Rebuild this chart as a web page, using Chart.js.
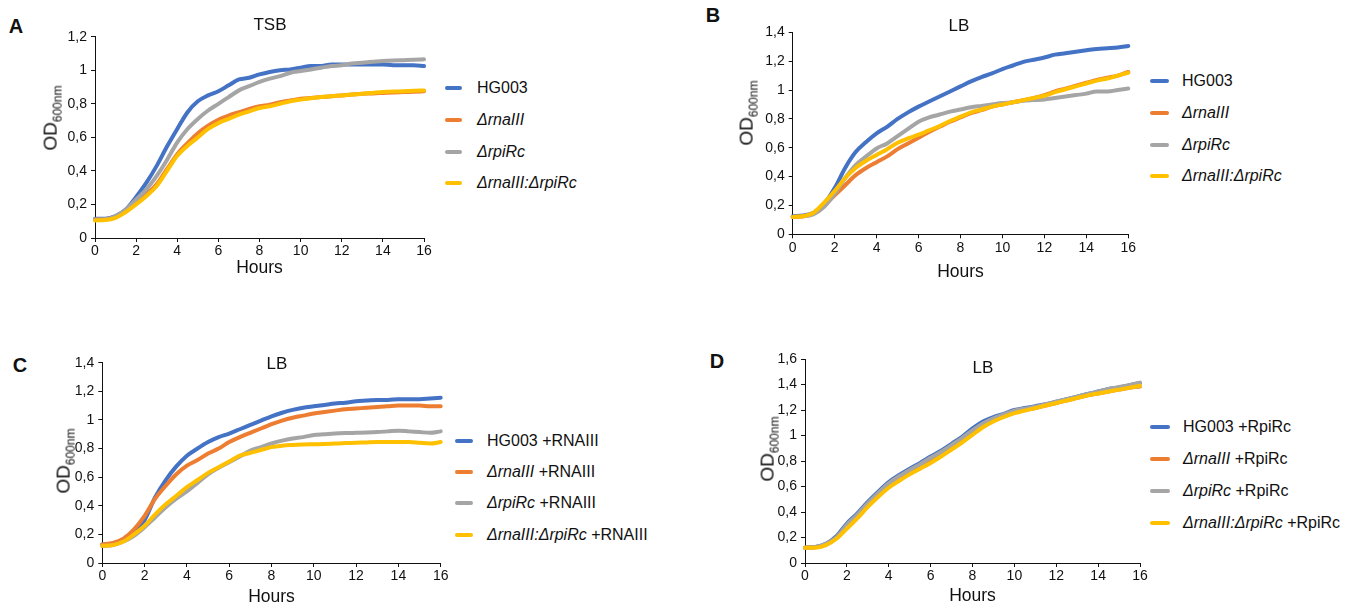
<!DOCTYPE html>
<html>
<head>
<meta charset="utf-8">
<script src="https://cdn.jsdelivr.net/npm/chart.js@4.4.0/dist/chart.umd.min.js"></script>
<style>
  body { margin: 0; background: #fff; width: 1359px; height: 609px; position: relative; overflow: hidden;
         font-family: "Liberation Sans", Arial, sans-serif; color: #111; }
  canvas { position: absolute; }
  .txt { position: absolute; white-space: nowrap; transform: translate(-50%, -50%); }
  .letter { font-weight: bold; font-size: 20px; }
  .title { font-size: 17px; }
  .od { font-size: 19px; transform: translate(-50%, -50%) rotate(-90deg); }
  .od sub { font-size: 12px; }
  .swatch { position: absolute; height: 4px; border-radius: 2px; }
  .leg { position: absolute; font-size: 16px; white-space: nowrap; transform: translateY(-50%); }
</style>
</head>
<body>
<script>
// time points (h)
const hours = [0, 0.5, 1, 1.5, 2, 2.5, 3, 3.5, 4, 4.5, 5, 5.5, 6, 6.5, 7, 7.5, 8,
               8.5, 9, 9.5, 10, 10.5, 11, 11.5, 12, 12.5, 13, 13.5, 14, 14.5, 15, 15.5, 16];

// A - TSB
const tsbHG003  = [0.115, 0.115, 0.13, 0.17, 0.245, 0.33, 0.43, 0.545, 0.65, 0.75, 0.815, 0.85, 0.875, 0.91, 0.945, 0.955, 0.975,
                   0.99, 1.0, 1.005, 1.015, 1.025, 1.025, 1.035, 1.035, 1.035, 1.035, 1.035, 1.035, 1.03, 1.03, 1.03, 1.025];
const tsbRnaIII = [0.11, 0.112, 0.125, 0.16, 0.21, 0.26, 0.32, 0.41, 0.5, 0.565, 0.625, 0.67, 0.705, 0.73, 0.75, 0.77, 0.785,
                   0.795, 0.81, 0.82, 0.83, 0.835, 0.84, 0.845, 0.85, 0.855, 0.86, 0.862, 0.865, 0.868, 0.87, 0.872, 0.875];
const tsbRpiRc  = [0.11, 0.112, 0.13, 0.17, 0.23, 0.29, 0.37, 0.465, 0.57, 0.65, 0.71, 0.76, 0.8, 0.84, 0.88, 0.905, 0.93,
                   0.95, 0.965, 0.985, 0.995, 1.005, 1.015, 1.025, 1.03, 1.04, 1.045, 1.05, 1.055, 1.058, 1.06, 1.062, 1.065];
const tsbDouble = [0.105, 0.107, 0.12, 0.155, 0.2, 0.25, 0.31, 0.4, 0.49, 0.55, 0.6, 0.65, 0.685, 0.71, 0.735, 0.755, 0.775,
                   0.785, 0.8, 0.815, 0.825, 0.833, 0.84, 0.845, 0.85, 0.855, 0.86, 0.865, 0.87, 0.873, 0.875, 0.878, 0.88];

// B - LB
const lbHG003  = [0.125, 0.13, 0.15, 0.21, 0.32, 0.46, 0.57, 0.64, 0.7, 0.745, 0.8, 0.845, 0.885, 0.92, 0.955, 0.99, 1.025,
                  1.06, 1.09, 1.115, 1.145, 1.17, 1.195, 1.21, 1.225, 1.245, 1.255, 1.265, 1.275, 1.285, 1.29, 1.295, 1.305];
const lbRnaIII = [0.12, 0.125, 0.145, 0.2, 0.27, 0.34, 0.41, 0.46, 0.5, 0.54, 0.59, 0.63, 0.67, 0.71, 0.745, 0.78, 0.81,
                  0.84, 0.86, 0.885, 0.9, 0.915, 0.93, 0.945, 0.965, 0.99, 1.01, 1.03, 1.05, 1.07, 1.085, 1.1, 1.125];
const lbRpiRc  = [0.12, 0.125, 0.14, 0.19, 0.28, 0.39, 0.48, 0.54, 0.595, 0.63, 0.68, 0.73, 0.78, 0.81, 0.83, 0.85, 0.865,
                  0.88, 0.89, 0.9, 0.91, 0.915, 0.925, 0.93, 0.935, 0.945, 0.955, 0.965, 0.975, 0.99, 0.99, 1.0, 1.01];
const lbDouble = [0.12, 0.125, 0.15, 0.22, 0.3, 0.39, 0.46, 0.51, 0.55, 0.59, 0.635, 0.665, 0.69, 0.72, 0.75, 0.785, 0.815,
                  0.845, 0.865, 0.885, 0.9, 0.915, 0.93, 0.945, 0.96, 0.985, 1.005, 1.025, 1.045, 1.065, 1.08, 1.1, 1.12];

// C - LB, +RNAIII
const rnaHG003  = [0.13, 0.135, 0.16, 0.22, 0.3, 0.46, 0.58, 0.675, 0.75, 0.8, 0.845, 0.88, 0.905, 0.935, 0.965, 0.995, 1.025,
                   1.05, 1.07, 1.085, 1.095, 1.105, 1.115, 1.12, 1.13, 1.135, 1.14, 1.14, 1.145, 1.145, 1.145, 1.15, 1.155];
const rnaRnaIII = [0.13, 0.14, 0.17, 0.235, 0.33, 0.45, 0.54, 0.62, 0.68, 0.72, 0.765, 0.8, 0.845, 0.88, 0.91, 0.94, 0.97,
                   0.995, 1.015, 1.03, 1.045, 1.055, 1.065, 1.075, 1.08, 1.085, 1.09, 1.095, 1.1, 1.1, 1.1, 1.095, 1.095];
const rnaRpiRc  = [0.12, 0.125, 0.15, 0.19, 0.25, 0.32, 0.39, 0.45, 0.5, 0.56, 0.62, 0.665, 0.705, 0.745, 0.785, 0.81, 0.835,
                   0.855, 0.87, 0.88, 0.895, 0.9, 0.905, 0.908, 0.91, 0.912, 0.915, 0.92, 0.925, 0.92, 0.915, 0.91, 0.92];
const rnaDouble = [0.12, 0.125, 0.15, 0.2, 0.26, 0.34, 0.41, 0.47, 0.53, 0.58, 0.63, 0.67, 0.71, 0.75, 0.77, 0.79, 0.81,
                   0.82, 0.825, 0.828, 0.83, 0.832, 0.835, 0.838, 0.84, 0.843, 0.845, 0.845, 0.845, 0.845, 0.84, 0.835, 0.845];

// D - LB, +RpiRc
const rpiHG003  = [0.12, 0.125, 0.15, 0.21, 0.31, 0.39, 0.48, 0.56, 0.635, 0.69, 0.74, 0.785, 0.835, 0.88, 0.935, 0.99, 1.055,
                   1.11, 1.145, 1.17, 1.2, 1.215, 1.23, 1.245, 1.265, 1.285, 1.305, 1.325, 1.345, 1.365, 1.375, 1.395, 1.41];
const rpiRnaIII = [0.12, 0.125, 0.145, 0.2, 0.29, 0.37, 0.46, 0.535, 0.605, 0.66, 0.71, 0.755, 0.8, 0.85, 0.905, 0.96, 1.02,
                   1.075, 1.12, 1.15, 1.18, 1.2, 1.215, 1.235, 1.255, 1.275, 1.295, 1.315, 1.33, 1.345, 1.36, 1.375, 1.385];
const rpiRpiRc  = [0.12, 0.125, 0.15, 0.2, 0.3, 0.38, 0.47, 0.55, 0.625, 0.68, 0.73, 0.775, 0.825, 0.87, 0.925, 0.98, 1.04,
                   1.095, 1.135, 1.165, 1.195, 1.21, 1.225, 1.245, 1.265, 1.285, 1.305, 1.325, 1.345, 1.365, 1.38, 1.395, 1.415];
const rpiDouble = [0.12, 0.12, 0.14, 0.19, 0.27, 0.35, 0.44, 0.52, 0.59, 0.645, 0.695, 0.74, 0.785, 0.835, 0.89, 0.945, 1.005,
                   1.065, 1.11, 1.145, 1.175, 1.195, 1.215, 1.235, 1.255, 1.275, 1.295, 1.315, 1.33, 1.345, 1.36, 1.375, 1.39];

const strainLabels = ['HG003', '<i>ΔrnaIII</i>', '<i>ΔrpiRc</i>', '<i>ΔrnaIII:ΔrpiRc</i>'];
const strainColors = ['#4472C4', '#ED7D31', '#A5A5A5', '#FFC000'];

// panel geometry: canvas box + wanted plot area, title/letter/legend anchors
const panels = [
  { letter: 'A', title: 'TSB', series: [tsbHG003, tsbRnaIII, tsbRpiRc, tsbDouble], yMax: 1.2, suffix: '',
    box: { x: 40, y: 0, w: 400, h: 290 }, area: { l: 95, r: 424, t: 36.7, b: 238 }, hoursPad: 11,
    letterAt: [16, 26], titleAt: [270, 25], odAt: [52, 118],
    legend: { x1: 445, x2: 462, tx: 477, rows: [88, 120, 152, 183] } },
  { letter: 'B', title: 'LB', series: [lbHG003, lbRnaIII, lbRpiRc, lbDouble], yMax: 1.4, suffix: '',
    box: { x: 740, y: 0, w: 400, h: 290 }, area: { l: 792.7, r: 1128.3, t: 32.3, b: 234.3 }, hoursPad: 7,
    letterAt: [713, 15], titleAt: [959, 26], odAt: [748, 113],
    legend: { x1: 1150, x2: 1169, tx: 1182, rows: [80.7, 112.7, 145, 176] } },
  { letter: 'C', title: 'LB', series: [rnaHG003, rnaRnaIII, rnaRpiRc, rnaDouble], yMax: 1.4, suffix: ' +RNAIII',
    box: { x: 50, y: 320, w: 400, h: 289 }, area: { l: 102.3, r: 440.7, t: 362.7, b: 563 }, hoursPad: 1,
    letterAt: [20, 365], titleAt: [277, 364], odAt: [65, 461],
    legend: { x1: 455, x2: 473, tx: 487, rows: [440.7, 471.7, 503, 535] } },
  { letter: 'D', title: 'LB', series: [rpiHG003, rpiRnaIII, rpiRpiRc, rpiDouble], yMax: 1.6, suffix: ' +RpiRc',
    box: { x: 750, y: 320, w: 400, h: 289 }, area: { l: 805, r: 1140, t: 359, b: 563 }, hoursPad: 2,
    letterAt: [717, 361], titleAt: [983, 368], odAt: [769, 449],
    legend: { x1: 1150, x2: 1170, tx: 1183, rows: [426.7, 459, 491, 522.7] } }
];

Chart.defaults.font.family = '"Liberation Sans", Arial, sans-serif';
Chart.defaults.color = '#111';

function addText(cls, html, at) {
  const el = document.createElement('div');
  el.className = 'txt ' + cls;
  el.innerHTML = html;
  el.style.left = at[0] + 'px';
  el.style.top = at[1] + 'px';
  document.body.appendChild(el);
}

const comma = v => (Math.round(v * 10) / 10).toString().replace('.', ',');

panels.forEach(p => {
  const cv = document.createElement('canvas');
  cv.width = p.box.w; cv.height = p.box.h;
  cv.style.left = p.box.x + 'px'; cv.style.top = p.box.y + 'px';
  document.body.appendChild(cv);

  const yWidth = p.area.l - p.box.x;
  const xHeight = p.box.y + p.box.h - p.area.b;

  const datasets = p.series.map((vals, i) => ({
    label: strainLabels[i],
    data: vals.map((v, k) => ({ x: hours[k], y: v })),
    borderColor: strainColors[i],
    borderWidth: 4,
    borderCapStyle: 'round',
    borderJoinStyle: 'round',
    pointRadius: 0,
    tension: 0.3,
    cubicInterpolationMode: 'monotone',
    clip: false,
    order: 3 - i
  }));

  new Chart(cv, {
    type: 'line',
    data: { datasets },
    options: {
      responsive: false,
      animation: false,
      layout: { padding: { top: p.area.t - p.box.y, right: p.box.x + p.box.w - p.area.r, left: 0, bottom: 0 } },
      plugins: { legend: { display: false }, tooltip: { enabled: false } },
      scales: {
        x: {
          type: 'linear', min: 0, max: 16,
          grid: { display: true, drawOnChartArea: false, drawTicks: true, tickLength: 4, color: '#111' },
          border: { display: true, color: '#111', width: 1 },
          ticks: { stepSize: 2, maxRotation: 0, autoSkip: false, padding: 1, font: { size: 14 }, color: '#111' },
          title: { display: true, text: 'Hours', font: { size: 17.5 }, color: '#111', padding: { top: 0, bottom: p.hoursPad } },
          afterFit: s => { s.height = xHeight; s.paddingLeft = 0; s.paddingRight = 0; }
        },
        y: {
          min: 0, max: p.yMax,
          grid: { display: true, drawOnChartArea: false, drawTicks: true, tickLength: 4, color: '#111' },
          border: { display: true, color: '#111', width: 1 },
          ticks: { stepSize: 0.2, padding: 4, font: { size: 14 }, color: '#111', callback: comma },
          afterFit: s => { s.width = yWidth; s.paddingTop = 0; s.paddingBottom = 0; }
        }
      }
    }
  });

  addText('letter', p.letter, p.letterAt);
  addText('title', p.title, p.titleAt);
  addText('od', 'OD<sub>600nm</sub>', p.odAt);

  p.legend.rows.forEach((y, i) => {
    const sw = document.createElement('div');
    sw.className = 'swatch';
    sw.style.left = p.legend.x1 + 'px';
    sw.style.width = (p.legend.x2 - p.legend.x1) + 'px';
    sw.style.top = (y - 2) + 'px';
    sw.style.background = strainColors[i];
    document.body.appendChild(sw);

    const lab = document.createElement('div');
    lab.className = 'leg';
    lab.innerHTML = strainLabels[i] + p.suffix;
    lab.style.left = p.legend.tx + 'px';
    lab.style.top = y + 'px';
    document.body.appendChild(lab);
  });
});
</script>
</body>
</html>
